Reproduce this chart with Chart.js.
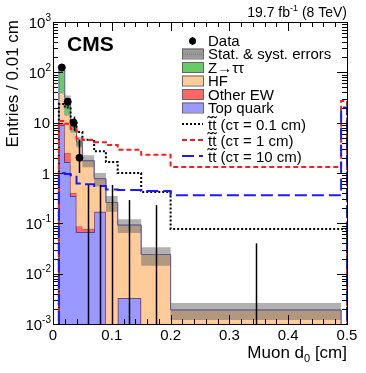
<!DOCTYPE html>
<html lang="en">
  <head>
    <meta charset="UTF-8" />
    <title>Muon d0 - CMS 19.7 fb-1 (8 TeV)</title>
    <style>
      html,
      body {
        margin: 0;
        padding: 0;
        background: #fff;
      }
      #wrap {
        width: 366px;
        height: 373px;
      }
    </style>
  </head>
  <body>
    <div id="wrap"><canvas id="myChart" width="366" height="373"></canvas></div>
    <script src="https://cdn.jsdelivr.net/npm/chart.js"></script>
    <script>
      // bin edges in cm (last bin 0.49-0.50 is the overflow)
      const binEdges = [0.01, 0.02, 0.03, 0.04, 0.05, 0.07, 0.09, 0.11, 0.15, 0.2, 0.49, 0.5];

      // backgrounds, entries / 0.01 cm, bins 0.01 -> 0.49
      const topQuark = [9, 1.65, 0.35, 0.067, 0.067, 0.17, 0, 0.0033, 0, 0];
      const otherEW = [0.5, 0.85, 0.05, 0.02, 0.01, 0, 0, 0, 0, 0];
      const hf = [29.5, 11.7, 6.1, 3.5, 1.65, 0.6, 0.26, 0.089, 0.024, 0.0019];
      const zTauTau = [72, 15.8, 3.5, 0.6, 0.05, 0, 0, 0, 0, 0];
      const bkgErr = [0.06, 0.15, 0.2, 0.23, 0.27, 0.3, 0.35, 0.3, 0.4, 0.37];

      // data
      const dataVals = [125, 26, 10, 2, 0, 0, 0, 0, 0, 0];
      const dataErrUp = [11.2, 5.1, 3.2, 2.6, 0.58, 0.58, 0.58, 0.29, 0.23, 0.04];
      const dataErrDown = [11.2, 5.1, 3.2, 1.0, 0, 0, 0, 0, 0, 0];

      // signals, bins 0.01 -> 0.50
      const sigCt01 = [23.5, 20, 11, 6.5, 4.6, 2.7, 1.65, 1.0, 0.42, 0.077, 0.077];
      const sigCt1 = [10.8, 9.5, 7.5, 4.8, 4.5, 4.1, 3.6, 2.9, 2.3, 1.32, 27];
      const sigCt10 = [1.0, 0.95, 0.9, 0.62, 0.6, 0.55, 0.47, 0.46, 0.44, 0.36, 20];

      const yDecades = [-3, -2, -1, 0, 1, 2, 3];
      const xTicks = [0, 0.1, 0.2, 0.3, 0.4, 0.5];

      const FONT = '"Liberation Sans", Arial, Helvetica, sans-serif';
      const FLOOR = 1e-5;

      const colTop = "#9999ff";
      const colEW = "#ff6666";
      const colHF = "#ffcc99";
      const colZ = "#66cc66";
      const colBand = "rgba(100,100,100,0.5)";

      function getNode(nodeName) {
        return document.querySelector(nodeName);
      }

      function cumulate(...arrs) {
        return arrs[0].map((_, i) => arrs.reduce((s, a) => s + a[i], 0));
      }

      function stepPoints(vals) {
        const n = vals.length;
        const pts = [{ x: binEdges[0], y: FLOOR }];
        vals.forEach((v, i) => pts.push({ x: binEdges[i], y: Math.max(v, FLOOR) }));
        pts.push({ x: binEdges[n], y: Math.max(vals[n - 1], FLOOR) });
        pts.push({ x: binEdges[n], y: FLOOR });
        return pts;
      }

      const cumTop = topQuark;
      const cumEW = cumulate(topQuark, otherEW);
      const cumHF = cumulate(topQuark, otherEW, hf);
      const cumZ = cumulate(topQuark, otherEW, hf, zTauTau);
      const bandLo = cumZ.map((v, i) => v * (1 - bkgErr[i]));
      const bandHi = cumZ.map((v, i) => v * (1 + bkgErr[i]));
      const binCenters = dataVals.map((_, i) => (binEdges[i] + binEdges[i + 1]) / 2);

      function histo(vals, extra) {
        return Object.assign(
          {
            data: stepPoints(vals),
            stepped: true,
            pointRadius: 0,
            tension: 0
          },
          extra
        );
      }

      const datasets = [
        histo(cumTop, { label: "Top quark", backgroundColor: colTop, borderColor: "#2b2b90", borderWidth: 1.5, fill: "start", order: 10 }),
        histo(cumEW, { label: "Other EW", backgroundColor: colEW, borderColor: "#cc4444", borderWidth: 1, fill: 0, order: 9 }),
        histo(cumHF, { label: "HF", backgroundColor: colHF, borderColor: "#8c8cd0", borderWidth: 1, fill: 1, order: 8 }),
        histo(cumZ, { label: "Z→ττ", backgroundColor: colZ, borderColor: "#5a5ab0", borderWidth: 1, fill: 2, order: 7 }),
        histo(bandLo, { label: "bandLo", borderWidth: 0, borderColor: "rgba(0,0,0,0)", fill: false, order: 6 }),
        histo(bandHi, { label: "Stat. & syst. errors", borderWidth: 0, borderColor: "rgba(0,0,0,0)", backgroundColor: colBand, fill: 4, order: 5 }),
        histo(sigCt01, { label: "ct01", borderColor: "#000", borderWidth: 2, borderDash: [2, 2], fill: false, order: 4 }),
        histo(sigCt1, { label: "ct1", borderColor: "#ff1a1a", borderWidth: 2, borderDash: [5, 3], fill: false, order: 3 }),
        histo(sigCt10, { label: "ct10", borderColor: "#1a1aff", borderWidth: 2, borderDash: [12, 5], fill: false, order: 2 }),
        {
          label: "Data",
          data: binCenters.map((c, i) => ({ x: c, y: dataVals[i] > 0 ? dataVals[i] : null })),
          showLine: false,
          pointRadius: 3.5,
          pointHoverRadius: 3.5,
          pointBackgroundColor: "#000",
          pointBorderColor: "#000",
          order: 1
        }
      ];

      function supText(ctx, parts, x, y, align) {
        // parts: [text, size, dy]
        let total = 0;
        parts.forEach(p => {
          ctx.font = p[1] + "px " + FONT;
          p.w = ctx.measureText(p[0]).width;
          total += p.w;
        });
        let cx = align === "right" ? x - total : align === "center" ? x - total / 2 : x;
        ctx.textAlign = "left";
        parts.forEach(p => {
          ctx.font = p[1] + "px " + FONT;
          ctx.fillText(p[0], cx, y + p[2]);
          cx += p.w;
        });
      }

      const errorBars = {
        id: "errorBars",
        afterDatasetsDraw(chart) {
          const { ctx, chartArea } = chart;
          const x = chart.scales.x;
          const y = chart.scales.y;
          ctx.save();
          ctx.beginPath();
          ctx.rect(chartArea.left, chartArea.top, chartArea.width, chartArea.height);
          ctx.clip();
          ctx.strokeStyle = "#000";
          ctx.lineWidth = 1.5;
          binCenters.forEach((c, i) => {
            const px = Math.round(x.getPixelForValue(c)) + 0.5;
            const lo = dataVals[i] - dataErrDown[i];
            const yLo = lo > 0 ? y.getPixelForValue(lo) : chartArea.bottom;
            const yHi = y.getPixelForValue(dataVals[i] + dataErrUp[i]);
            ctx.beginPath();
            ctx.moveTo(px, yLo);
            ctx.lineTo(px, yHi);
            ctx.stroke();
          });
          ctx.restore();
        }
      };

      const frame = {
        id: "frame",
        afterDraw(chart) {
          const { ctx, chartArea: a } = chart;
          const x = chart.scales.x;
          const y = chart.scales.y;
          ctx.save();
          ctx.strokeStyle = "#000";
          ctx.lineWidth = 1;
          ctx.strokeRect(a.left + 0.5, a.top + 0.5, a.width, a.height);

          // y ticks, both sides
          ctx.beginPath();
          yDecades.forEach((d, k) => {
            const py = Math.round(y.getPixelForValue(Math.pow(10, d))) + 0.5;
            ctx.moveTo(a.left, py);
            ctx.lineTo(a.left + 10, py);
            ctx.moveTo(a.right, py);
            ctx.lineTo(a.right - 10, py);
            if (k < yDecades.length - 1) {
              for (let m = 2; m <= 9; m++) {
                const pm = Math.round(y.getPixelForValue(m * Math.pow(10, d))) + 0.5;
                ctx.moveTo(a.left, pm);
                ctx.lineTo(a.left + 5, pm);
                ctx.moveTo(a.right, pm);
                ctx.lineTo(a.right - 5, pm);
              }
            }
          });
          // x ticks, top and bottom
          for (let i = 0; i <= 25; i++) {
            const px = Math.round(x.getPixelForValue(i * 0.02)) + 0.5;
            const len = i % 5 === 0 ? 9 : 5;
            ctx.moveTo(px, a.bottom);
            ctx.lineTo(px, a.bottom - len);
            ctx.moveTo(px, a.top);
            ctx.lineTo(px, a.top + len);
          }
          ctx.stroke();

          ctx.fillStyle = "#000";
          ctx.textBaseline = "alphabetic";
          // y labels
          yDecades.forEach(d => {
            const py = y.getPixelForValue(Math.pow(10, d));
            if (d === 0) supText(ctx, [["1", 15, 0]], 50, py + 5.5, "right");
            else if (d === 1) supText(ctx, [["10", 15, 0]], 50, py + 5.5, "right");
            else supText(ctx, [["10", 15, 0], [d < 0 ? "-" + -d : "" + d, 10, -7]], 51, py + 5.5, "right");
          });
          // x labels
          xTicks.forEach(t => {
            supText(ctx, [[t === 0 ? "0" : String(t), 15, 0]], x.getPixelForValue(t), a.bottom + 16, "center");
          });

          // titles
          supText(ctx, [["Muon d", 17, 0], ["0", 11, 4], [" [cm]", 17, 0]], a.right, 358, "right");
          supText(ctx, [["19.7 fb", 14, 0], ["-1", 9, -6], [" (8 TeV)", 14, 0]], a.right, 17, "right");
          ctx.save();
          ctx.translate(18, a.top - 2);
          ctx.rotate(-Math.PI / 2);
          supText(ctx, [["Entries / 0.01 cm", 17, 0]], 0, 0, "right");
          ctx.restore();
          ctx.font = "bold 21px " + FONT;
          ctx.textAlign = "left";
          ctx.fillText("CMS", 67, 51);

          // legend
          const bx = 182;
          const bw = 21;
          const tx = 208;
          const rows = [
            { t: "Data", y: 40, kind: "data" },
            { t: "Stat. & syst. errors", y: 53.5, kind: "band" },
            { t: "Z→ττ", y: 67, kind: "box", c: colZ },
            { t: "HF", y: 80.5, kind: "box", c: colHF },
            { t: "Other EW", y: 94, kind: "box", c: colEW },
            { t: "Top quark", y: 107.5, kind: "box", c: colTop },
            { t: "t̃t̃ (cτ = 0.1 cm)", y: 124, kind: "line", c: "#000", dash: [2, 2] },
            { t: "t̃t̃ (cτ = 1 cm)", y: 140, kind: "line", c: "#ff1a1a", dash: [5, 3] },
            { t: "t̃t̃ (cτ = 10 cm)", y: 156, kind: "line", c: "#1a1aff", dash: [12, 5] }
          ];
          rows.forEach(r => {
            if (r.kind === "box" || r.kind === "band") {
              ctx.fillStyle = r.kind === "band" ? "#9a9a9a" : r.c;
              ctx.fillRect(bx, r.y - 5, bw, 10);
              ctx.strokeStyle = "#666";
              ctx.lineWidth = 1;
              ctx.setLineDash([]);
              ctx.strokeRect(bx + 0.5, r.y - 4.5, bw, 10);
              if (r.kind === "band") {
                ctx.strokeStyle = "#777";
                ctx.setLineDash([1, 1]);
                ctx.beginPath();
                ctx.moveTo(bx + 1, r.y + 0.5);
                ctx.lineTo(bx + bw, r.y + 0.5);
                ctx.stroke();
                ctx.setLineDash([]);
              }
            } else if (r.kind === "line") {
              ctx.strokeStyle = r.c;
              ctx.lineWidth = 2;
              ctx.setLineDash(r.dash);
              ctx.beginPath();
              ctx.moveTo(bx, r.y);
              ctx.lineTo(bx + bw, r.y);
              ctx.stroke();
              ctx.setLineDash([]);
            } else {
              ctx.fillStyle = "#000";
              ctx.beginPath();
              ctx.arc(bx + 10.5, r.y + 1, 3.5, 0, Math.PI * 2);
              ctx.fill();
              ctx.strokeStyle = "#000";
              ctx.lineWidth = 1.5;
              ctx.beginPath();
              ctx.moveTo(bx + 10.5, r.y - 3);
              ctx.lineTo(bx + 10.5, r.y + 5);
              ctx.stroke();
            }
            ctx.fillStyle = "#000";
            ctx.font = "15px " + FONT;
            ctx.textAlign = "left";
            ctx.fillText(r.t, tx, r.y + 5.5);
          });
          ctx.restore();
        }
      };

      const ctx = getNode("#myChart");
      const myChart = new Chart(ctx, {
        type: "line",
        data: { datasets: datasets },
        options: {
          responsive: false,
          animation: false,
          devicePixelRatio: 1,
          layout: { padding: { left: 53, right: 19, top: 22, bottom: 49 } },
          scales: {
            x: { type: "linear", min: 0, max: 0.5, display: false },
            y: { type: "logarithmic", min: 0.001, max: 1000, display: false }
          },
          plugins: {
            legend: { display: false },
            tooltip: { enabled: false }
          }
        },
        plugins: [errorBars, frame]
      });
    </script>
  </body>
</html>
